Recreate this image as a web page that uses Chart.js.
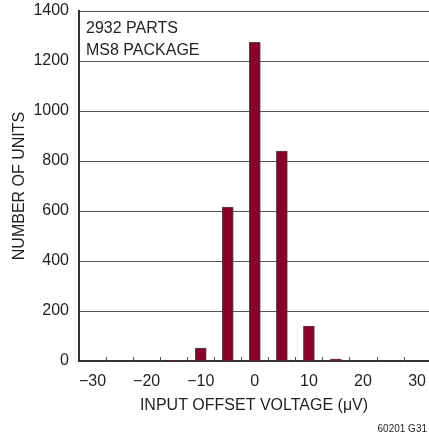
<!DOCTYPE html>
<html>
<head>
<meta charset="utf-8">
<script src="https://cdn.jsdelivr.net/npm/chart.js@4.4.1/dist/chart.umd.min.js"></script>
<style>
html,body{margin:0;padding:0;background:#fff;}
canvas{display:block;}
</style>
</head>
<body>
<canvas id="c" width="429" height="435"></canvas>
<script>
// ---- data ----
const binCenters = [-15, -10, -5, 0, 5, 10, 15];
const unitCounts = [1, 52, 616, 1275, 840, 140, 8];
const xTickValues = [-30, -20, -10, 0, 10, 20, 30];
const xMinorTicks = [-27.5, -22.5, -17.5, -12.5, -7.5, -2.5, 2.5, 7.5, 12.5, 17.5, 22.5, 27.5];
const yTickValues = [0, 200, 400, 600, 800, 1000, 1200, 1400];
const noteLines = ['2932 PARTS', 'MS8 PACKAGE'];
const footerText = '60201 G31';

const FONT = "'Liberation Sans', Arial, sans-serif";
const TXT = '#231f20';

const extras = {
  id: 'extras',
  afterDatasetsDraw(chart) {
    const ctx = chart.ctx;
    const xs = chart.scales.x;
    const ca = chart.chartArea;
    ctx.save();
    ctx.strokeStyle = '#555';
    ctx.lineWidth = 1;
    xMinorTicks.forEach(v => {
      const px = Math.round(xs.getPixelForValue(v)) + 0.5;
      ctx.beginPath();
      ctx.moveTo(px, ca.bottom);
      ctx.lineTo(px, ca.bottom - 4);
      ctx.stroke();
    });
    ctx.fillStyle = TXT;
    ctx.font = '16px ' + FONT;
    ctx.textAlign = 'left';
    ctx.textBaseline = 'alphabetic';
    noteLines.forEach((t, i) => ctx.fillText(t, ca.left + 7, ca.top + 22 + i * 22));
    ctx.font = '10px ' + FONT;
    ctx.textAlign = 'right';
    ctx.fillText(footerText, 427, 432);
    ctx.restore();
  }
};

new Chart(document.getElementById('c'), {
  type: 'bar',
  data: {
    datasets: [{
      data: binCenters.map((x, i) => ({x: x, y: unitCounts[i]})),
      backgroundColor: '#8a0028',
      borderColor: '#4a4a4a',
      borderWidth: 1,
      barThickness: 11
    }]
  },
  options: {
    responsive: false,
    animation: false,
    devicePixelRatio: 1,
    layout: {padding: {top: 11, left: 0, right: 0, bottom: 0}},
    plugins: {legend: {display: false}, tooltip: {enabled: false}},
    scales: {
      x: {
        type: 'linear',
        offset: false,
        min: -32.5,
        max: 32.2,
        afterBuildTicks: s => { s.ticks = xTickValues.map(v => ({value: v})); },
        afterFit: s => { s.height = 74; },
        grid: {display: true, drawOnChartArea: false, drawTicks: true, tickLength: 11, tickColor: 'rgba(0,0,0,0)'},
        border: {display: true, color: '#333', width: 2},
        ticks: {
          padding: 0,
          color: TXT,
          font: {family: FONT, size: 16},
          maxRotation: 0,
          autoSkip: false,
          callback: v => v < 0 ? '\u2212' + Math.abs(v) : String(v)
        },
        title: {display: true, text: 'INPUT OFFSET VOLTAGE (\u03bcV)', color: TXT,
          font: {family: FONT, size: 16}, padding: {top: 0, bottom: 20}}
      },
      y: {
        min: 0,
        max: 1400,
        afterBuildTicks: s => { s.ticks = yTickValues.map(v => ({value: v})); },
        afterFit: s => { s.width = 79; },
        grid: {color: '#555', lineWidth: 1, drawTicks: true, tickLength: 10, tickColor: 'rgba(0,0,0,0)'},
        border: {display: true, color: '#333', width: 2},
        ticks: {padding: 0, color: TXT, font: {family: FONT, size: 16}, callback: v => String(v)},
        title: {display: true, text: 'NUMBER OF UNITS', color: TXT,
          font: {family: FONT, size: 16}, padding: {top: 10, bottom: 0}}
      }
    }
  },
  plugins: [extras]
});
</script>
</body>
</html>
